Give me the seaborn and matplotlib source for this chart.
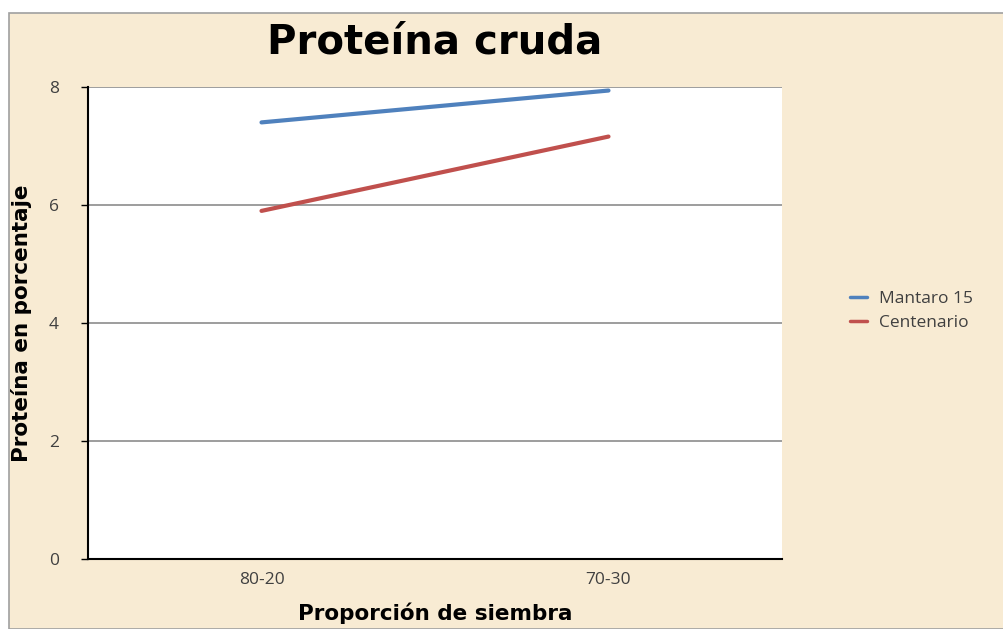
import matplotlib
matplotlib.use("Agg")
import matplotlib.pyplot as plt
import seaborn as sns
import pandas as pd
from matplotlib.patches import Rectangle

categories = ["80-20", "70-30"]
mantaro = [7.40, 7.94]
centenario = [5.90, 7.16]
series_names = ["Mantaro 15", "Centenario"]
yticks = [0, 2, 4, 6, 8]

df = pd.DataFrame({
    "Proporción": categories * 2,
    "x": list(range(len(categories))) * 2,
    "valor": mantaro + centenario,
    "serie": [series_names[0]] * len(categories) + [series_names[1]] * len(categories),
})

sns.set_theme(style="white")
plt.rcParams['font.family'] = ['DejaVu Sans']
plt.rcParams['text.color'] = 'black'
plt.rcParams['axes.labelcolor'] = 'black'

bg = "#F8EBD3"
fig = plt.figure(figsize=(10.04, 6.29), dpi=100)
fig.patch.set_facecolor("white")
fig.patches.append(Rectangle((9/1004, 0), 1 - 9/1004, 1 - 13/629, transform=fig.transFigure,
                             facecolor=bg, edgecolor="#A0A0A0", linewidth=1.2, zorder=-10))

ax = fig.add_axes([88/1004, 1 - 559/629, (782 - 88)/1004, (559 - 87)/629])
ax.set_facecolor("white")

palette = {series_names[0]: "#4F81BD", series_names[1]: "#C0504D"}
sns.lineplot(data=df, x="x", y="valor", hue="serie", palette=palette, linewidth=3,
             ax=ax, legend=True)

ax.set_xlim(-0.5, len(categories) - 0.5)
ax.set_ylim(0, 8)
ax.set_yticks(yticks)
ax.set_yticklabels([str(t) for t in yticks], fontfamily="Open Sans", fontsize=12.5, color="#404040")
ax.set_xticks(range(len(categories)))
ax.set_xticklabels(categories, fontfamily="Open Sans", fontsize=12.5, color="#404040")
ax.tick_params(axis="y", which="both", left=True, length=5, width=1, color="black", pad=16)
ax.tick_params(axis="x", which="both", bottom=False, pad=3)

for y in yticks[1:]:
    ax.axhline(y, color="#8C8C8C", linewidth=1.2, zorder=0.5)

for s in ["top", "right"]:
    ax.spines[s].set_visible(False)
ax.spines["left"].set_color("black")
ax.spines["left"].set_linewidth(1.5)
ax.spines["bottom"].set_color("black")
ax.spines["bottom"].set_linewidth(1.5)

ax.set_xlabel("Proporción de siembra", fontsize=15.5, fontweight="bold", labelpad=11)
ax.set_ylabel("Proteína en porcentaje", fontsize=15.5, fontweight="bold", labelpad=12)

fig.text(435/1004, 1 - 42/629, "Proteína cruda", ha="center", va="center",
         fontsize=29, fontweight="bold", color="black")

leg = ax.legend(loc="center left", bbox_to_anchor=(1.075, 0.525), frameon=False,
                handlelength=1.0, handletextpad=0.7, labelspacing=0.45,
                prop={"family": "Open Sans", "size": 12.5})
for t in leg.get_texts():
    t.set_color("#404040")
for l in leg.get_lines():
    l.set_linewidth(2.5)

fig.savefig("out.png", dpi=100, facecolor=fig.get_facecolor())
